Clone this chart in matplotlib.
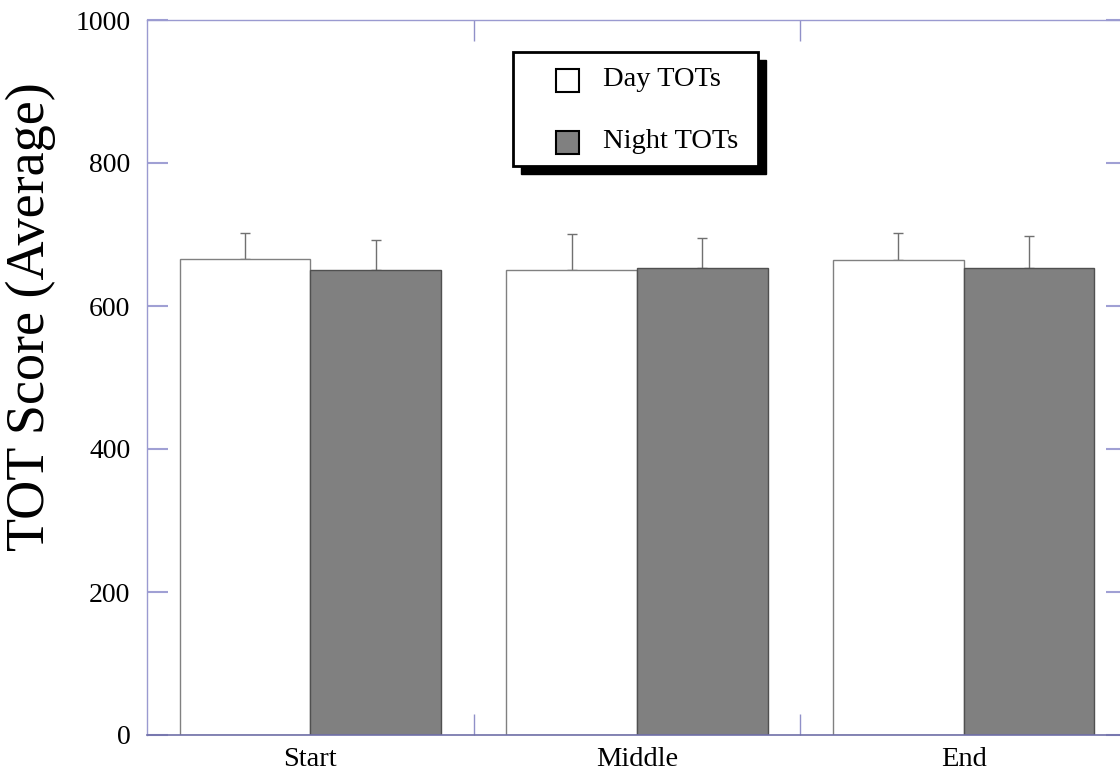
import matplotlib
matplotlib.use("Agg")
import matplotlib.pyplot as plt
import numpy as np
from matplotlib.patches import Rectangle

categories = ["Start", "Middle", "End"]
series_names = ["Day TOTs", "Night TOTs"]
day_values = [666, 651, 664]
night_values = [651, 653, 653]
day_err = [36, 50, 38]
night_err = [42, 42, 45]
y_ticks = [0, 200, 400, 600, 800, 1000]

plt.rcParams['font.family'] = ['Liberation Serif', 'DejaVu Serif']

fig = plt.figure(figsize=(11.2, 7.75), dpi=100)
ax = fig.add_axes([147/1120, 40/775, 980/1120, 715/775])

x = np.arange(len(categories))
w = 0.4
ax.bar(x - w/2, day_values, w, color='white', edgecolor='#808080', linewidth=1, zorder=2)
ax.bar(x + w/2, night_values, w, color='#808080', edgecolor='#505050', linewidth=1, zorder=2)
ax.errorbar(x - w/2, day_values, yerr=[np.zeros(3), day_err], fmt='none',
            ecolor='#707070', elinewidth=1, capsize=3.5, capthick=1, zorder=1)
ax.errorbar(x + w/2, night_values, yerr=[np.zeros(3), night_err], fmt='none',
            ecolor='#707070', elinewidth=1, capsize=3.5, capthick=1, zorder=1)

ax.set_xlim(-0.5, 2.5)
ax.set_ylim(0, 1000)
ax.set_yticks(y_ticks)
ax.set_xticks(x)
ax.set_xticklabels(categories, fontsize=20.5)
ax.set_xticks([0.5, 1.5], minor=True)
ax.tick_params(axis='x', which='major', length=0, pad=9)
ax.tick_params(axis='x', which='minor', direction='in', length=15, top=True,
               bottom=True, color='#9090c8', width=1)
ax.tick_params(axis='y', which='major', direction='in', length=15, left=True,
               right=True, color='#a0a0d4', width=1.5, labelsize=20, pad=12)

for s in ['left', 'top', 'right']:
    ax.spines[s].set_color('#9a9ad0')
    ax.spines[s].set_linewidth(1)
ax.spines['bottom'].set_color('#7070a8')
ax.spines['bottom'].set_linewidth(1.2)

ax.set_ylabel("TOT Score (Average)", fontsize=39)
ax.yaxis.set_label_coords(-0.093, 0.585)

# legend drawn manually in axes coordinates
lx0, ly0, lw, lh = 0.3735, 0.796, 0.25, 0.159
sh_dx, sh_dy = 8/980, -8/715
ax.add_patch(Rectangle((lx0 + sh_dx, ly0 + sh_dy), lw, lh, transform=ax.transAxes,
                       facecolor='black', edgecolor='black', zorder=5, clip_on=False))
ax.add_patch(Rectangle((lx0, ly0), lw, lh, transform=ax.transAxes,
                       facecolor='white', edgecolor='black', linewidth=2, zorder=6, clip_on=False))
fills = ['white', '#808080']
row_y = [(735-80)/715, (735-142)/715]
hx = (556-147)/980
hw = 23/980
hh = 23/715
tx = (603-147)/980
for name, fc, ry in zip(series_names, fills, row_y):
    ax.add_patch(Rectangle((hx, ry - hh/2), hw, hh, transform=ax.transAxes,
                           facecolor=fc, edgecolor='black', linewidth=1.5, zorder=7, clip_on=False))
    ax.text(tx, ry, name, transform=ax.transAxes, fontsize=20.5, va='center', ha='left', zorder=7)

fig.savefig("out.png", dpi=100)
